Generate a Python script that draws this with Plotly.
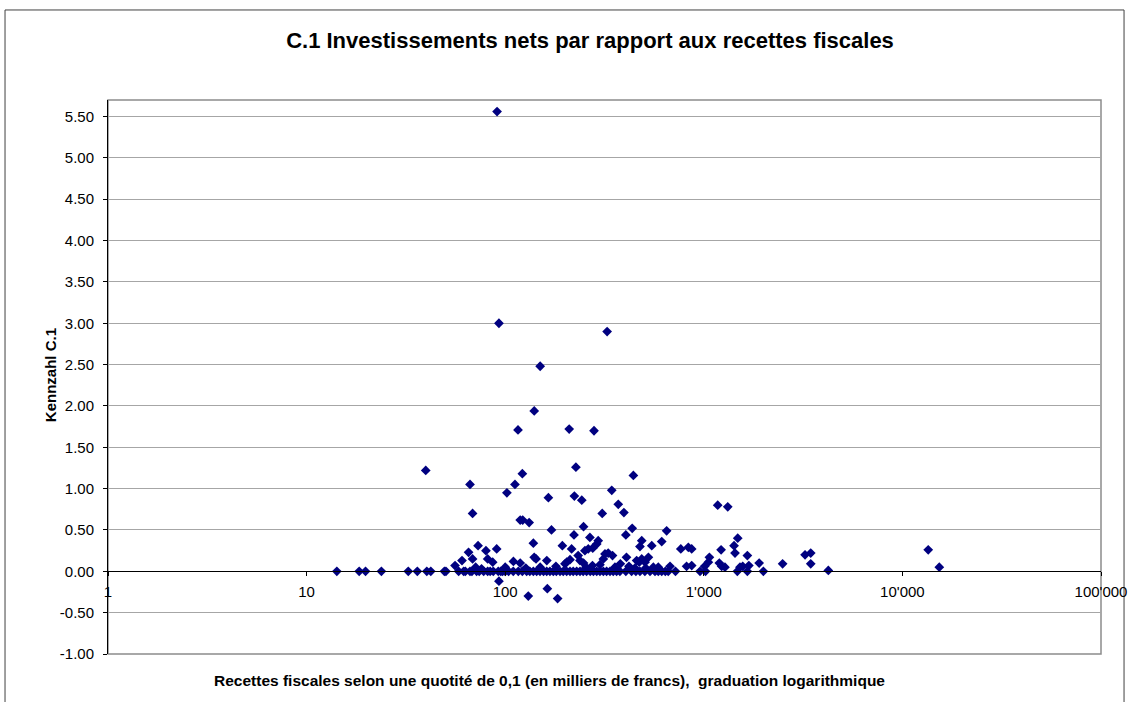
import plotly.graph_objects as go

# Steuerertrag (en milliers de francs) et Kennzahl C.1
recettes = [
    # points sur la ligne zéro
    14.2, 18.4, 19.8, 23.8, 32.5, 36.1, 40.3, 42.2, 49.4, 50.3, 58.3, 61.8, 63, 66.5, 68,
    71.8, 74, 77.9, 81.6, 84, 87.1, 92.3, 95, 97, 100, 104, 109.8, 116.4, 122, 128.3, 133,
    138.6, 144, 149.7, 156, 161.8, 168, 174.7, 181, 188.8, 196, 204, 212, 220, 229, 238,
    247, 257, 268, 278, 289, 300, 312, 324, 337, 350, 364, 378, 405, 433, 455, 477, 505,
    536, 568, 590, 614, 640, 662, 720, 957, 1020, 1475, 1657, 1995,
    # autres points
    39.8, 66.5, 68.5, 73, 80, 81.6, 86.5, 90.6, 68.5, 65.4, 60.6, 55.9, 71, 76, 93,
    91, 93, 102, 112, 116, 122, 119, 122.5, 132, 138.6, 140, 143, 110, 119, 130.7,
    140, 150, 163, 183.6, 165, 171, 162, 194, 216, 204, 212, 200, 210, 227, 223, 243,
    248, 222, 233, 238, 248, 252, 262, 276, 267, 280, 289, 294, 308, 312, 318, 330,
    347, 326, 344, 371, 396, 405, 408, 436, 442, 459, 473, 477, 487, 487, 506, 526,
    547, 557, 614, 650, 676, 766, 836, 869, 819, 869, 1010, 1054, 1067, 1175, 1320,
    1222, 1197, 1230, 1278, 1420, 1436, 1482, 1521, 1570, 1657, 1686, 1900, 2494,
    3235, 3455, 3455, 4237, 13490, 15340,
    100, 127, 150, 180, 255, 275, 300, 357, 380, 420, 450, 510, 560, 590,
]
kennzahl = [
    0, 0, 0, 0, 0, 0, 0, 0, 0, 0, 0, 0, 0, 0, 0,
    0, 0, 0, 0, 0, 0, 0, 0, 0, 0, 0, 0, 0, 0, 0, 0,
    0, 0, 0, 0, 0, 0, 0, 0, 0, 0, 0, 0, 0, 0, 0,
    0, 0, 0, 0, 0, 0, 0, 0, 0, 0, 0, 0, 0, 0, 0, 0, 0,
    0, 0, 0, 0, 0, 0, 0, 0, 0, 0, 0, 0,
    1.22, 1.05, 0.70, 0.31, 0.25, 0.15, 0.11, 0.27, 0.15, 0.23, 0.13, 0.07, 0.05, 0.03, -0.12,
    5.56, 3.00, 0.95, 1.05, 1.71, 1.18, 0.62, 0.62, 0.59, 0.34, 0.17, 0.15, 0.12, 0.10, -0.30,
    1.94, 2.48, -0.21, -0.33, 0.89, 0.50, 0.13, 0.31, 0.27, 0.11, 0.14, 0.09, 1.72, 1.26, 0.91, 0.86,
    0.54, 0.44, 0.19, 0.13, 0.10, 0.25, 0.27, 0.28, 0.41, 1.70, 0.33, 0.37, 0.70, 0.15, 0.21, 0.22,
    0.19, 2.90, 0.98, 0.81, 0.71, 0.44, 0.17, 0.52, 1.16, 0.13, 0.11, 0.30, 0.37, 0.15, 0.11, 0.17,
    0.31, 0.05, 0.36, 0.49, 0.06, 0.27, 0.29, 0.27, 0.06, 0.07, 0.06, 0.11, 0.17, 0.80, 0.78,
    0.26, 0.10, 0.06, 0.05, 0.31, 0.22, 0.40, 0.05, 0.06, 0.19, 0.07, 0.10, 0.09,
    0.20, 0.22, 0.09, 0.01, 0.26, 0.05,
    0.05, 0.04, 0.05, 0.06, 0.05, 0.07, 0.08, 0.05, 0.09, 0.06, 0.04, 0.04, 0.02, 0.05,
]

x_ticks = [1, 10, 100, 1000, 10000, 100000]
x_tick_labels = ["1", "10", "100", "1'000", "10'000", "100'000"]

y_ticks = [-1.0, -0.5, 0.0, 0.5, 1.0, 1.5, 2.0, 2.5, 3.0, 3.5, 4.0, 4.5, 5.0, 5.5]
y_tick_labels = [f"{v:.2f}" for v in y_ticks]  # plain hyphen like Excel

y_min, y_max = -1.0, 5.7

W, H = 1130, 702

fig = go.Figure()

fig.add_trace(go.Scatter(
    x=recettes,
    y=kennzahl,
    mode="markers",
    marker=dict(symbol="diamond", size=7.5, color="#000080", line=dict(width=0)),
    showlegend=False,
))

fig.update_layout(
    width=W,
    height=H,
    paper_bgcolor="white",
    plot_bgcolor="white",
    font=dict(family="Liberation Sans, Arial, sans-serif", color="black"),
    margin=dict(l=108, r=29, t=100, b=48, pad=0, autoexpand=False),
    title=dict(
        text="<b>C.1 Investissements nets par rapport aux recettes fiscales</b>",
        x=590 / W, xanchor="center", y=1 - 40 / H, yanchor="middle",
        font=dict(size=22),
    ),
    xaxis=dict(
        type="log",
        range=[0, 5],
        tickvals=x_ticks,
        ticktext=x_tick_labels,
        tickfont=dict(size=15),
        ticks="outside",
        ticklen=4,
        tickcolor="black",
        ticklabelstandoff=3,
        showline=True,
        linecolor="black",
        linewidth=1,
        showgrid=False,
        zeroline=False,
        automargin=False,
        anchor="free",
        position=(0 - y_min) / (y_max - y_min),
    ),
    yaxis=dict(
        range=[y_min, y_max],
        tickvals=y_ticks,
        ticktext=y_tick_labels,
        tickfont=dict(size=15),
        ticks="outside",
        ticklen=4,
        tickcolor="black",
        ticklabelstandoff=6,
        showline=True,
        linecolor="black",
        linewidth=1,
        showgrid=True,
        gridcolor="#a6a6a6",
        gridwidth=1,
        zeroline=False,
        automargin=False,
    ),
    shapes=[
        # cadre de la zone de tracé
        dict(type="rect", xref="paper", yref="paper", x0=0, x1=1, y0=0, y1=1,
             line=dict(color="#8c8c8c", width=1.5), layer="below"),
        # cadre du graphique
        dict(type="rect", xref="paper", yref="paper",
             x0=-0.1037, x1=1.0232, y0=-0.1, y1=1.1625,
             line=dict(color="#404040", width=1), layer="below"),
    ],
    annotations=[
        dict(text="<b>Kennzahl C.1</b>", textangle=-90, xref="paper", yref="paper",
             x=-0.058, y=0.504, xanchor="center", yanchor="middle",
             showarrow=False, font=dict(size=15)),
        dict(text="<b>Recettes fiscales selon une quotité de 0,1 (en milliers de francs),  graduation logarithmique</b>",
             xref="paper", yref="paper", x=0.445, y=-0.0487,
             xanchor="center", yanchor="middle", showarrow=False, font=dict(size=15.5)),
    ],
)

# drop the default 8px body margin so the figure fills the window exactly
fig.write_html(
    "out.html",
    config={"displayModeBar": False},
    post_script="document.body.style.margin = '0';",
)
